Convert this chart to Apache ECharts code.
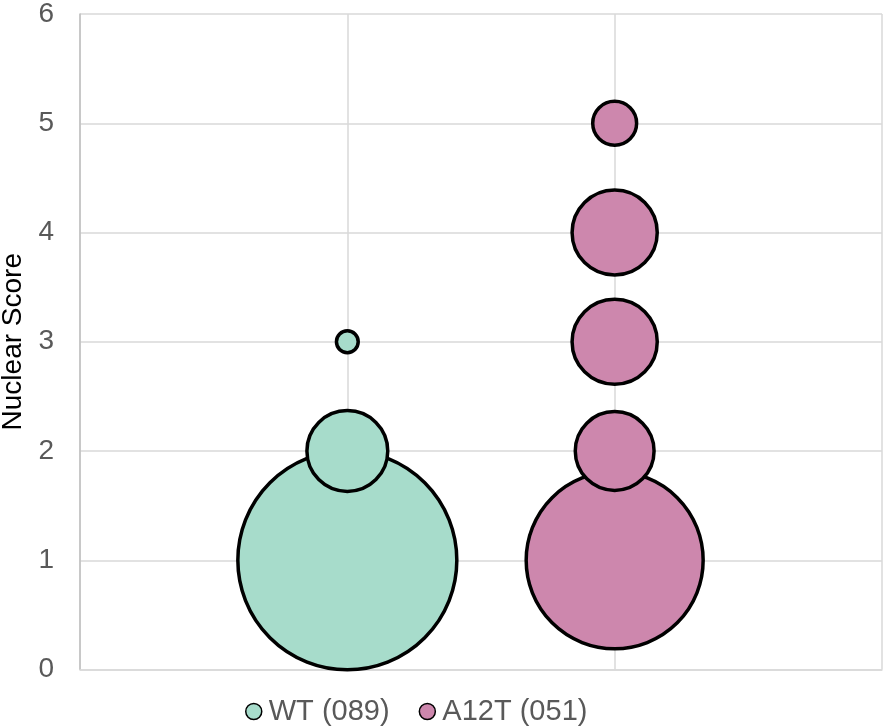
<!DOCTYPE html>
<html>
<head>
<meta charset="utf-8">
<script src="https://cdn.jsdelivr.net/npm/echarts@6/dist/echarts.min.js"></script>
<style>
  html, body { margin: 0; padding: 0; background: #fff; }
  #chart { width: 884px; height: 726px; }
</style>
</head>
<body>
<div id="chart"></div>
<script>
// Nuclear score distribution per genotype: x position, score, share of nuclei (%)
const groupNames = ['WT (089)', 'A12T (051)'];
const groupX = [1, 2];
const wtScores = [1, 2, 3];
const wtShare = [86.5, 12.4, 1.1];
const a12tScores = [1, 2, 3, 4, 5];
const a12tShare = [56.9, 11.8, 13.7, 13.7, 3.9];
const yTicks = [0, 1, 2, 3, 4, 5, 6];

const colors = ['#a7dccb', '#cd87ad'];
const FONT = '"Liberation Sans", Arial, sans-serif';

// bubble area proportional to share
function bubbleSize(v) {
  return 23.9 * Math.sqrt(v[2]) - 3.3;
}

function buildData(x, scores, share) {
  return scores.map((s, i) => [x, s, share[i]]);
}

const chart = echarts.init(document.getElementById('chart'), null, { renderer: 'canvas' });

chart.setOption({
  animation: false,
  backgroundColor: '#ffffff',
  grid: { left: 80, right: 2, top: 14, bottom: 56.5, containLabel: false, outerBoundsMode: 'none' },
  legend: {
    data: groupNames,
    left: 240,
    top: 692,
    icon: 'circle',
    itemWidth: 16,
    itemHeight: 16,
    itemGap: 29,
    textStyle: { color: '#595959', fontSize: 29, fontFamily: FONT, padding: [0, 0, 0, 2] },
    itemStyle: { borderColor: '#000', borderWidth: 1.5 }
  },
  xAxis: {
    type: 'value',
    min: 0,
    max: 3,
    interval: 1,
    axisLabel: { show: false },
    axisTick: { show: false },
    axisLine: { show: true, lineStyle: { color: '#d9d9d9', width: 1.5 } },
    splitLine: { show: true, lineStyle: { color: '#d9d9d9', width: 1.5 } }
  },
  yAxis: {
    type: 'value',
    min: yTicks[0],
    max: yTicks[yTicks.length - 1],
    interval: 1,
    name: 'Nuclear Score',
    nameLocation: 'middle',
    nameGap: 52,
    nameTextStyle: { color: '#000', fontSize: 28, fontFamily: FONT },
    axisLabel: { color: '#595959', fontSize: 28, fontFamily: FONT, margin: 26 },
    axisTick: { show: false },
    axisLine: { show: true, lineStyle: { color: '#bfbfbf', width: 1.5 } },
    splitLine: { show: true, lineStyle: { color: '#d9d9d9', width: 1.5 } }
  },
  series: [
    {
      name: groupNames[0],
      type: 'scatter',
      data: buildData(groupX[0], wtScores, wtShare),
      symbolSize: bubbleSize,
      itemStyle: { color: colors[0], borderColor: '#000', borderWidth: 3.5, opacity: 1 }
    },
    {
      name: groupNames[1],
      type: 'scatter',
      data: buildData(groupX[1], a12tScores, a12tShare),
      symbolSize: bubbleSize,
      itemStyle: { color: colors[1], borderColor: '#000', borderWidth: 3.5, opacity: 1 }
    }
  ]
});
</script>
</body>
</html>
